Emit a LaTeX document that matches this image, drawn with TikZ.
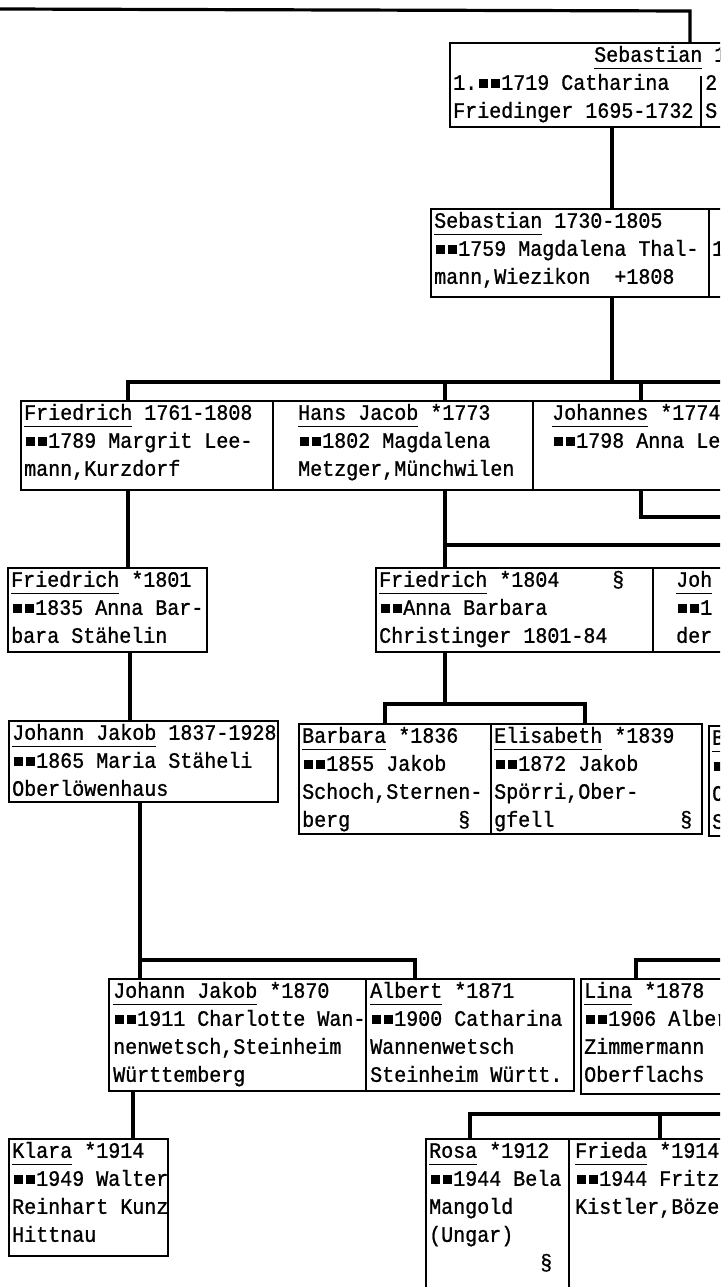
\documentclass[tikz,border=0pt]{standalone}
\usepackage{fontspec}
\newfontfamily\tw[FakeStretch=0.91,FakeBold=1]{Liberation Mono}
\newcommand\nm[1]{\setbox0=\hbox{#1}\rlap{\rule[-7.5pt]{\wd0}{1.4pt}}\box0\relax}
\newcommand\mmdot{\makebox[12pt][c]{\rule[2pt]{9pt}{9pt}}}
\newcommand\mm{\mmdot\mmdot}
\tikzset{
  box/.style={draw, line width=1.8pt, inner sep=0pt, anchor=north west},
  divline/.style={line width=1.8pt},
  txt/.style={anchor=north west, inner sep=0pt, align=left, font=\tw\fontsize{22}{28}\selectfont},
  conn/.style={line width=3.2pt, line join=miter}
}
\begin{document}
\begin{tikzpicture}[x=1pt,y=-1pt]
\useasboundingbox (0,0) rectangle (720,1287);
\fill[white] (0,0) rectangle (720,1287);
\clip (0,0) rectangle (720,1287);

% ---------- boxes ----------
\node[box, minimum width=311pt, minimum height=84pt] (A) at (449,42) {};
\node[box, minimum width=278pt, minimum height=88pt] (B) at (430,208) {};
\node[box, minimum width=52pt, minimum height=88pt] (B2) at (708,208) {};
\node[box, minimum width=252pt, minimum height=89pt] (C) at (20,400) {};
\node[box, minimum width=260pt, minimum height=89pt] (D) at (272,400) {};
\node[box, minimum width=228pt, minimum height=89pt] (E) at (532,400) {};
\node[box, minimum width=199pt, minimum height=84pt] (F) at (7,567) {};
\node[box, minimum width=277pt, minimum height=84pt] (G) at (375,567) {};
\node[box, minimum width=108pt, minimum height=84pt] (H) at (652,567) {};
\node[box, minimum width=269pt, minimum height=81pt] (I) at (8,720) {};
\node[box, minimum width=192pt, minimum height=110pt] (J) at (298,723) {};
\node[box, minimum width=211pt, minimum height=110pt] (K) at (490,723) {};
\node[box, minimum width=52pt, minimum height=110pt] (L) at (708,725) {};
\node[box, minimum width=257pt, minimum height=112pt] (M) at (108,978) {};
\node[box, minimum width=208pt, minimum height=112pt] (N) at (365,978) {};
\node[box, minimum width=180pt, minimum height=115pt] (O) at (580,978) {};
\node[box, minimum width=159pt, minimum height=117pt] (P) at (8,1138) {};
\node[box, minimum width=143pt, minimum height=170pt] (R) at (425,1138) {};
\node[box, minimum width=192pt, minimum height=170pt] (Q) at (568,1138) {};

% divider inside A
\coordinate (Ad) at (701,76);
\draw[divline] (Ad) -- (A.south -| Ad);

% ---------- texts ----------
\node[txt] (At1) at (594,42) {\strut\nm{Sebastian} 1};
\node[txt] (At2) at (453,70) {\strut 1.\mm1719 Catharina\\Friedinger 1695-1732};
\node[txt] (At3) at (705,70) {\strut 2\\S};

\node[txt] (Bt) at (434,208) {\strut\nm{Sebastian} 1730-1805\\\mm1759 Magdalena Thal-\\mann,Wiezikon~ +1808};
\node[txt] (B2t) at (712,236) {\strut 1};

\node[txt] (Ct) at (24,400) {\strut\nm{Friedrich} 1761-1808\\\mm1789 Margrit Lee-\\mann,Kurzdorf};
\node[txt] (Dt) at (298,400) {\strut\nm{Hans Jacob} *1773\\\mm1802 Magdalena\\Metzger,Münchwilen};
\node[txt] (Et) at (552,400) {\strut\nm{Johannes} *1774\\\mm1798 Anna Le};

\node[txt] (Ft) at (11,567) {\strut\nm{Friedrich} *1801\\\mm1835 Anna Bar-\\bara Stähelin};
\node[txt] (Gt) at (379,567) {\strut\nm{Friedrich} *1804\\\mm Anna Barbara\\Christinger 1801-84};
\node[txt] (Gs) at (612,567) {\strut §};
\node[txt] (Ht) at (676,567) {\strut\nm{Joh}\\\mm1\\der};

\node[txt] (It) at (12,720) {\strut\nm{Johann Jakob} 1837-1928\\\mm1865 Maria Stäheli\\Oberlöwenhaus};
\node[txt] (Jt) at (302,723) {\strut\nm{Barbara} *1836\\\mm1855 Jakob\\Schoch,Sternen-\\berg};
\node[txt] (Js) at (458,807) {\strut §};
\node[txt] (Kt) at (494,723) {\strut\nm{Elisabeth} *1839\\\mm1872 Jakob\\Spörri,Ober-\\gfell};
\node[txt] (Ks) at (680,807) {\strut §};
\node[txt] (Lt) at (712,725) {\strut\nm{Ba}\\\mm\\Os\\St};

\node[txt] (Mt) at (113,978) {\strut\nm{Johann Jakob} *1870\\\mm1911 Charlotte Wan-\\nenwetsch,Steinheim\\Württemberg};
\node[txt] (Nt) at (370,978) {\strut\nm{Albert} *1871\\\mm1900 Catharina\\Wannenwetsch\\Steinheim Württ.};
\node[txt] (Ot) at (584,978) {\strut\nm{Lina} *1878\\\mm1906 Alber\\Zimmermann\\Oberflachs};

\node[txt] (Pt) at (12,1138) {\strut\nm{Klara} *1914\\\mm1949 Walter\\Reinhart Kunz\\Hittnau};
\node[txt] (Rt) at (429,1138) {\strut\nm{Rosa} *1912\\\mm1944 Bela\\Mangold\\(Ungar)};
\node[txt] (Rs) at (540,1250) {\strut §};
\node[txt] (Qt) at (575,1138) {\strut\nm{Frieda} *1914\\\mm1944 Fritz\\Kistler,Böze};

% ---------- connectors ----------
\coordinate (t0) at (0,9);
\coordinate (t1) at (690,11);
\draw[conn] (t0) -- (t1) -- (A.north -| t1);

\coordinate (ab) at (612,0);
\draw[conn] (A.south -| ab) -- (B.north -| ab);

\coordinate (r3L) at (128,382);
\coordinate (r3R) at (730,382);
\coordinate (r3B) at (612,382);
\coordinate (r3D) at (445,382);
\coordinate (r3E) at (641,382);
\draw[conn] (B.south -| r3B) -- (r3B);
\draw[conn] (C.north -| r3L) -- (r3L) -- (r3R);
\draw[conn] (r3D) -- (D.north -| r3D);
\draw[conn] (r3E) -- (E.north -| r3E);

\coordinate (cf) at (128,0);
\draw[conn] (C.south -| cf) -- (F.north -| cf);

\coordinate (r4D) at (445,545);
\coordinate (r4R) at (730,545);
\draw[conn] (D.south -| r4D) -- (G.north -| r4D);
\draw[conn] (r4D) -- (r4R);

\coordinate (eR) at (641,517);
\coordinate (eR2) at (730,517);
\draw[conn] (E.south -| eR) -- (eR) -- (eR2);

\coordinate (fi) at (130,0);
\draw[conn] (F.south -| fi) -- (I.north -| fi);

\coordinate (gj) at (445,704);
\coordinate (gjL) at (385,704);
\coordinate (gjR) at (585,704);
\draw[conn] (G.south -| gj) -- (gj);
\draw[conn] (J.north -| gjL) -- (gjL) -- (gjR) -- (K.north -| gjR);

\coordinate (imL) at (140,960);
\coordinate (imR) at (415,960);
\draw[conn] (I.south -| imL) -- (M.north -| imL);
\draw[conn] (imL) -- (imR) -- (N.north -| imR);

\coordinate (oL) at (636,960);
\coordinate (oR) at (730,960);
\draw[conn] (O.north -| oL) -- (oL) -- (oR);

\coordinate (mp) at (133,0);
\draw[conn] (M.south -| mp) -- (P.north -| mp);

\coordinate (rL) at (470,1114);
\coordinate (rM) at (660,1114);
\coordinate (rR) at (730,1114);
\draw[conn] (R.north -| rL) -- (rL) -- (rR);
\draw[conn] (rM) -- (Q.north -| rM);
\end{tikzpicture}
\end{document}
